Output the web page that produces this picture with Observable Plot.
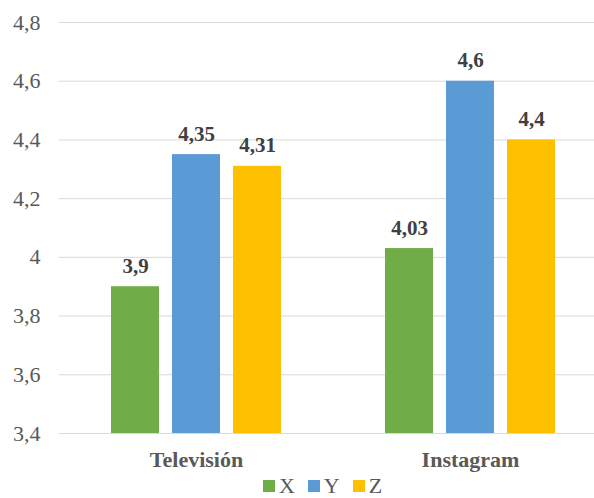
<!DOCTYPE html>
<html>
<head>
<meta charset="utf-8">
<script src="https://cdn.jsdelivr.net/npm/d3@7"></script>
<script src="https://cdn.jsdelivr.net/npm/@observablehq/plot@0.6"></script>
</head>
<body style="margin:0; background:#fff">
<div id="chart" style="width:594px"></div>
<script>
// Categories, series and values
const categories = ["Televisión", "Instagram"];
const series = ["X", "Y", "Z"];
const colors = ["#70AD47", "#5B9BD5", "#FFC000"];
const valuesX = [3.9, 4.03];
const valuesY = [4.35, 4.6];
const valuesZ = [4.31, 4.4];
const yTicks = [3.4, 3.6, 3.8, 4.0, 4.2, 4.4, 4.6, 4.8];

const seriesValues = [valuesX, valuesY, valuesZ];
const comma = d => String(d).replace(".", ",");
const serif = "Liberation Serif";

// Each series sits at its own offset within the category band
const barWidth = 48, barStep = 61, band = 274;
const inset = (band - barWidth) / 2;

const seriesMarks = series.flatMap((s, i) => {
  const data = categories.map((cat, j) => ({cat, value: seriesValues[i][j]}));
  const dx = (i - 1) * barStep;
  return [
    Plot.barY(data, {
      x: "cat", y1: yTicks[0], y2: "value", fill: colors[i],
      insetLeft: inset, insetRight: inset, dx
    }),
    Plot.text(data, {
      x: "cat", y: "value", text: d => comma(d.value), dx, dy: -14,
      lineAnchor: "bottom", fontSize: 21, fontFamily: serif,
      fontWeight: "bold", fill: "#404040"
    })
  ];
});

const plot = Plot.plot({
  width: 594,
  height: 475,
  marginLeft: 59,
  marginRight: 0,
  marginTop: 22,
  marginBottom: 42,
  x: {domain: categories, range: [59, 59 + 2 * band], padding: 0, label: null},
  y: {domain: [yTicks[0], yTicks[yTicks.length - 1]], label: null},
  marks: [
    Plot.gridY(yTicks, {stroke: "#D9D9D9", strokeOpacity: 1, strokeWidth: 1}),
    Plot.axisY(yTicks, {
      tickSize: 0, tickPadding: 19, tickFormat: comma,
      fontSize: 22, fontFamily: serif, fill: "#595959", label: null
    }),
    Plot.axisX({
      anchor: "bottom", tickSize: 0, tickPadding: 18,
      fontSize: 22, fontFamily: serif, fontWeight: "bold", fill: "#595959", label: null
    }),
    ...seriesMarks
  ]
});

const chart = document.getElementById("chart");
chart.appendChild(plot);

// Legend: one swatch per series, centred under the chart
const legend = d3.select(chart).append("div")
  .style("display", "flex")
  .style("justify-content", "center")
  .style("align-items", "center")
  .style("padding-left", "64px")
  .style("height", "22px")
  .style("font-family", serif)
  .style("font-size", "22px")
  .style("color", "#595959");

series.forEach((s, i) => {
  const item = legend.append("span")
    .style("display", "inline-flex")
    .style("align-items", "center")
    .style("margin-right", "13px");
  item.append("span")
    .style("display", "inline-block")
    .style("width", "12px")
    .style("height", "12px")
    .style("margin-right", "4px")
    .style("background", colors[i]);
  item.append("span").text(s);
});
</script>
</body>
</html>
